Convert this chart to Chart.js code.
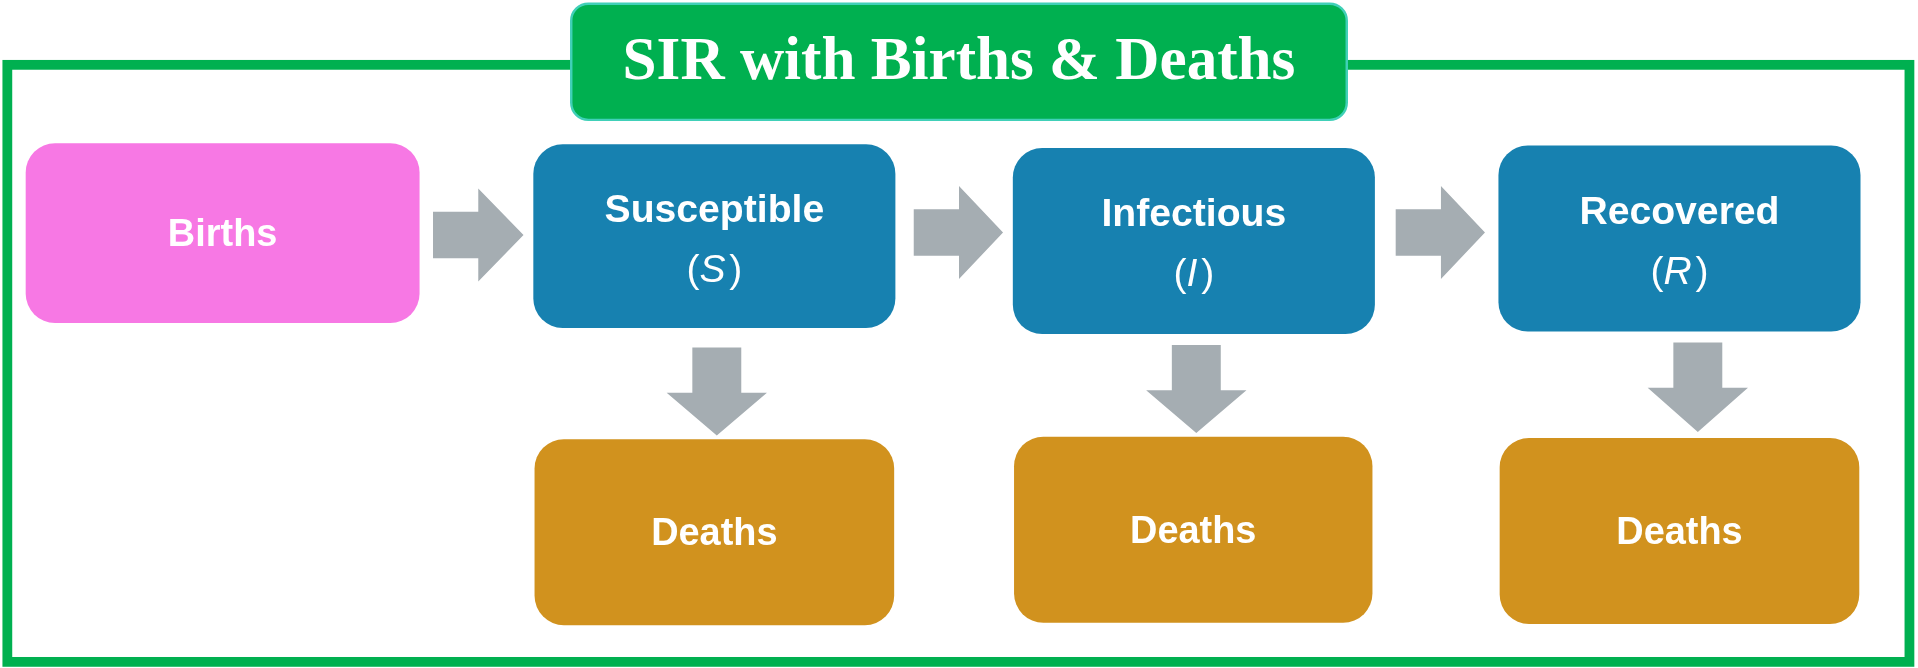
<!DOCTYPE html>
<html>
<head>
<meta charset="utf-8">
<script src="https://cdn.jsdelivr.net/npm/chart.js@4/dist/chart.umd.min.js"></script>
<style>
  html, body { margin: 0; padding: 0; background: #fff; overflow: hidden; }
  canvas { display: block; }
</style>
</head>
<body>
<canvas id="c" width="1918" height="668"></canvas>
<script>
// Diagram drawn in a 1568 x 546 reference space (scaled to the canvas)
const boxNames = ['Births', 'Susceptible', 'Infectious', 'Recovered', 'Deaths', 'Deaths', 'Deaths'];
const boxSymbols = ['', 'S', 'I', 'R', '', '', ''];
const boxX0 = [21, 436, 828, 1225, 437, 829, 1226];
const boxY0 = [117, 118, 121, 119, 359, 357, 358];
const boxX1 = [343, 732, 1124, 1521, 731, 1122, 1520];
const boxY1 = [264, 268, 273, 271, 511, 509, 510];
const boxKind = ['birth', 'comp', 'comp', 'comp', 'death', 'death', 'death'];

// right arrows: left x, tip x, center y
const rArrowX0 = [354, 747, 1141];
const rArrowX1 = [428, 820, 1214];
const rArrowY = [192, 190, 190];
// down arrows: center x, top y, tip y
const dArrowX = [586, 978, 1388];
const dArrowY0 = [284, 282, 280];
const dArrowY1 = [356, 354, 353];

const titleText = 'SIR with Births & Deaths';

const fills = { birth: '#f778e4', comp: '#1781b0', death: '#d1921e' };

function rr(ctx, x, y, w, h, r) {
  ctx.beginPath();
  ctx.moveTo(x + r, y);
  ctx.arcTo(x + w, y, x + w, y + h, r);
  ctx.arcTo(x + w, y + h, x, y + h, r);
  ctx.arcTo(x, y + h, x, y, r);
  ctx.arcTo(x, y, x + w, y, r);
  ctx.closePath();
}

const diagram = {
  id: 'diagram',
  afterDatasetsDraw(chart) {
    const ctx = chart.ctx, xs = chart.scales.x, ys = chart.scales.y;
    const k = chart.chartArea.width / 1568;
    const X = v => xs.getPixelForValue(v), Y = v => ys.getPixelForValue(v);
    ctx.save();

    // outer frame
    ctx.strokeStyle = '#00b050';
    ctx.lineWidth = 8 * k;
    ctx.strokeRect(X(6), Y(53), X(1561) - X(6), Y(541) - Y(53));

    // title box
    rr(ctx, X(467), Y(3), X(1101) - X(467), Y(98) - Y(3), 14 * k);
    ctx.fillStyle = '#00b050'; ctx.fill();
    ctx.strokeStyle = '#40d0b8'; ctx.lineWidth = 2 * k; ctx.stroke();
    ctx.fillStyle = '#fff';
    ctx.textAlign = 'center'; ctx.textBaseline = 'middle';
    ctx.font = 'bold ' + (50 * k) + 'px "Liberation Serif"';
    ctx.fillText(titleText, X(784), Y(52));

    // arrows
    ctx.fillStyle = '#a5adb2';
    rArrowX0.forEach((x0, i) => {
      const x1 = rArrowX1[i], cy = rArrowY[i], xm = x0 + 37;
      ctx.beginPath();
      ctx.moveTo(X(x0), Y(cy - 19)); ctx.lineTo(X(xm), Y(cy - 19));
      ctx.lineTo(X(xm), Y(cy - 38)); ctx.lineTo(X(x1), Y(cy));
      ctx.lineTo(X(xm), Y(cy + 38)); ctx.lineTo(X(xm), Y(cy + 19));
      ctx.lineTo(X(x0), Y(cy + 19)); ctx.closePath(); ctx.fill();
    });
    dArrowX.forEach((cx, i) => {
      const y0 = dArrowY0[i], y1 = dArrowY1[i], ym = y0 + 37;
      ctx.beginPath();
      ctx.moveTo(X(cx - 20), Y(y0)); ctx.lineTo(X(cx + 20), Y(y0));
      ctx.lineTo(X(cx + 20), Y(ym)); ctx.lineTo(X(cx + 41), Y(ym));
      ctx.lineTo(X(cx), Y(y1)); ctx.lineTo(X(cx - 41), Y(ym));
      ctx.lineTo(X(cx - 20), Y(ym)); ctx.closePath(); ctx.fill();
    });

    // boxes
    boxNames.forEach((name, i) => {
      const x0 = X(boxX0[i]), y0 = Y(boxY0[i]), x1 = X(boxX1[i]), y1 = Y(boxY1[i]);
      rr(ctx, x0, y0, x1 - x0, y1 - y0, 24 * k);
      ctx.fillStyle = fills[boxKind[i]]; ctx.fill();
      ctx.fillStyle = '#fff';
      const cx = (x0 + x1) / 2, cy = (y0 + y1) / 2;
      if (boxSymbols[i]) {
        ctx.font = 'bold ' + (32 * k) + 'px "Liberation Sans"';
        ctx.fillText(name, cx, Y(boxY0[i] + 55));
        ctx.font = (32 * k) + 'px "Liberation Sans"';
        const sym = boxSymbols[i];
        const wl = ctx.measureText('(').width;
        ctx.font = 'italic ' + (32 * k) + 'px "Liberation Sans"';
        const ws = ctx.measureText(sym).width + 3 * k;
        const tot = wl * 2 + ws;
        const yy = Y(boxY0[i] + 104);
        ctx.textAlign = 'left';
        ctx.font = (32 * k) + 'px "Liberation Sans"';
        ctx.fillText('(', cx - tot / 2, yy);
        ctx.fillText(')', cx - tot / 2 + wl + ws, yy);
        ctx.font = 'italic ' + (32 * k) + 'px "Liberation Sans"';
        ctx.fillText(sym, cx - tot / 2 + wl, yy);
        ctx.textAlign = 'center';
      } else {
        ctx.font = 'bold ' + (31 * k) + 'px "Liberation Sans"';
        ctx.fillText(name, cx, cy + 2 * k);
      }
    });
    ctx.restore();
  }
};

new Chart(document.getElementById('c'), {
  type: 'scatter',
  data: { datasets: [{ data: boxX0.map((x, i) => ({ x: (x + boxX1[i]) / 2, y: (boxY0[i] + boxY1[i]) / 2 })), pointRadius: 0 }] },
  options: {
    responsive: false,
    animation: false,
    layout: { padding: 0 },
    plugins: { legend: { display: false }, tooltip: { enabled: false } },
    scales: {
      x: { type: 'linear', min: 0, max: 1568, display: false },
      y: { type: 'linear', min: 0, max: 546, reverse: true, display: false }
    }
  },
  plugins: [diagram]
});
</script>
</body>
</html>
